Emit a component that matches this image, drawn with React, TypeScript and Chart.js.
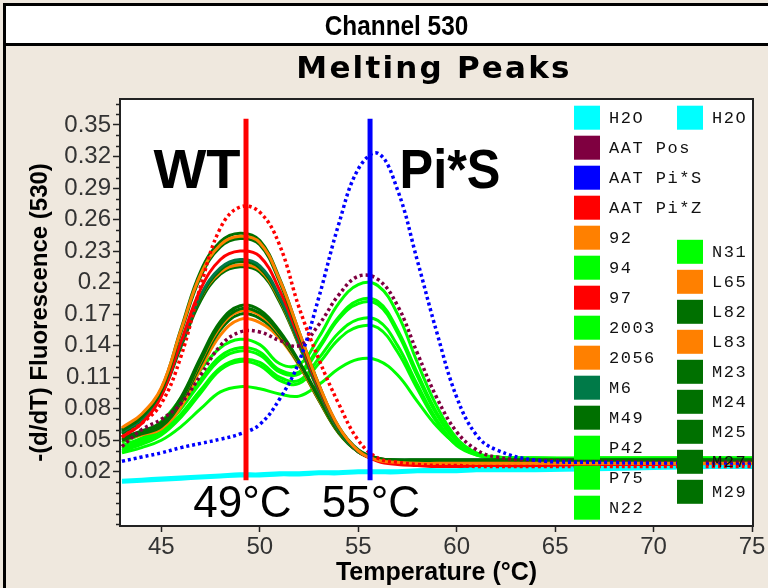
import React, { useEffect, useRef } from 'react';
import { Chart, registerables } from 'chart.js';

Chart.register(...registerables);

// ---------- data ----------
const TEMPS = [43, 44, 45, 46, 47, 48, 49, 50, 51, 52, 53, 54, 55, 56, 57, 58, 59, 60, 61, 62, 64, 67, 70, 73, 75];

const H2O_A = [0.010, 0.011, 0.012, 0.013, 0.014, 0.015, 0.016, 0.016, 0.017, 0.017, 0.018, 0.018, 0.019, 0.019, 0.019, 0.020, 0.020, 0.020, 0.021, 0.021, 0.021, 0.022, 0.023, 0.024, 0.024];
const H2O_B = [0.012, 0.013, 0.014, 0.015, 0.016, 0.017, 0.018, 0.018, 0.019, 0.019, 0.020, 0.020, 0.021, 0.021, 0.021, 0.022, 0.022, 0.022, 0.023, 0.023, 0.023, 0.024, 0.024, 0.025, 0.025];
const AAT_POS = [0.044, 0.060, 0.070, 0.085, 0.112, 0.140, 0.153, 0.153, 0.145, 0.140, 0.160, 0.188, 0.206, 0.203, 0.178, 0.133, 0.090, 0.058, 0.041, 0.034, 0.031, 0.030, 0.029, 0.029, 0.029];
const AAT_PIS = [0.030, 0.034, 0.038, 0.043, 0.047, 0.051, 0.056, 0.065, 0.089, 0.125, 0.186, 0.255, 0.308, 0.323, 0.288, 0.221, 0.152, 0.091, 0.055, 0.041, 0.031, 0.029, 0.028, 0.027, 0.027];
const AAT_PIZ = [0.053, 0.066, 0.085, 0.130, 0.197, 0.252, 0.272, 0.267, 0.236, 0.176, 0.127, 0.085, 0.050, 0.033, 0.029, 0.027, 0.026, 0.026, 0.025, 0.025, 0.025, 0.025, 0.025, 0.025, 0.025];
const S_92 = [0.062, 0.075, 0.100, 0.155, 0.208, 0.236, 0.244, 0.238, 0.203, 0.153, 0.103, 0.063, 0.040, 0.031, 0.029, 0.028, 0.028, 0.028, 0.028, 0.028, 0.028, 0.028, 0.028, 0.028, 0.028];
const S_94 = [0.048, 0.056, 0.068, 0.090, 0.117, 0.138, 0.146, 0.141, 0.123, 0.122, 0.148, 0.180, 0.198, 0.197, 0.170, 0.124, 0.082, 0.052, 0.038, 0.034, 0.033, 0.033, 0.033, 0.033, 0.033];
const S_97 = [0.053, 0.066, 0.092, 0.144, 0.194, 0.222, 0.230, 0.225, 0.193, 0.147, 0.100, 0.062, 0.040, 0.030, 0.027, 0.026, 0.025, 0.025, 0.025, 0.025, 0.025, 0.025, 0.025, 0.025, 0.025];
const S_2003 = [0.045, 0.052, 0.063, 0.083, 0.108, 0.130, 0.138, 0.134, 0.117, 0.115, 0.139, 0.167, 0.183, 0.182, 0.155, 0.114, 0.076, 0.050, 0.037, 0.034, 0.033, 0.033, 0.033, 0.033, 0.033];
const S_2056 = [0.050, 0.055, 0.061, 0.082, 0.118, 0.150, 0.165, 0.162, 0.147, 0.121, 0.088, 0.057, 0.039, 0.031, 0.029, 0.028, 0.028, 0.028, 0.028, 0.028, 0.028, 0.028, 0.028, 0.028, 0.028];
const S_M6 = [0.058, 0.070, 0.094, 0.142, 0.188, 0.214, 0.222, 0.216, 0.187, 0.143, 0.098, 0.060, 0.039, 0.032, 0.031, 0.031, 0.031, 0.031, 0.031, 0.031, 0.031, 0.031, 0.031, 0.031, 0.031];
const S_M49 = [0.060, 0.073, 0.099, 0.156, 0.211, 0.239, 0.247, 0.240, 0.204, 0.153, 0.103, 0.063, 0.041, 0.033, 0.031, 0.031, 0.031, 0.031, 0.031, 0.031, 0.031, 0.031, 0.031, 0.031, 0.031];
const S_P42 = [0.044, 0.050, 0.060, 0.080, 0.105, 0.127, 0.135, 0.131, 0.115, 0.113, 0.137, 0.165, 0.180, 0.179, 0.152, 0.111, 0.074, 0.049, 0.037, 0.034, 0.033, 0.033, 0.033, 0.033, 0.033];
const S_P75 = [0.042, 0.048, 0.057, 0.075, 0.098, 0.119, 0.127, 0.124, 0.110, 0.107, 0.128, 0.152, 0.165, 0.164, 0.140, 0.103, 0.069, 0.046, 0.036, 0.033, 0.032, 0.032, 0.032, 0.032, 0.032];
const S_N22 = [0.040, 0.046, 0.055, 0.072, 0.095, 0.117, 0.125, 0.121, 0.107, 0.104, 0.123, 0.146, 0.158, 0.157, 0.134, 0.099, 0.067, 0.045, 0.036, 0.033, 0.032, 0.032, 0.032, 0.032, 0.032];
const S_N31 = [0.038, 0.043, 0.050, 0.063, 0.080, 0.096, 0.101, 0.099, 0.094, 0.092, 0.103, 0.118, 0.127, 0.126, 0.112, 0.087, 0.063, 0.046, 0.037, 0.033, 0.032, 0.032, 0.032, 0.032, 0.032];
const S_L65 = [0.061, 0.074, 0.097, 0.142, 0.186, 0.210, 0.217, 0.212, 0.184, 0.141, 0.097, 0.060, 0.039, 0.031, 0.029, 0.028, 0.028, 0.028, 0.028, 0.028, 0.028, 0.028, 0.028, 0.028, 0.028];
const S_L82 = [0.057, 0.070, 0.095, 0.141, 0.186, 0.212, 0.220, 0.214, 0.185, 0.142, 0.097, 0.060, 0.039, 0.032, 0.031, 0.031, 0.031, 0.031, 0.031, 0.031, 0.031, 0.031, 0.031, 0.031, 0.031];
const S_L83 = [0.052, 0.058, 0.065, 0.088, 0.125, 0.158, 0.173, 0.169, 0.151, 0.123, 0.089, 0.058, 0.040, 0.031, 0.029, 0.028, 0.028, 0.028, 0.028, 0.028, 0.028, 0.028, 0.028, 0.028, 0.028];
const S_M23 = [0.051, 0.057, 0.064, 0.088, 0.126, 0.160, 0.175, 0.171, 0.152, 0.124, 0.090, 0.058, 0.040, 0.032, 0.031, 0.031, 0.031, 0.031, 0.031, 0.031, 0.031, 0.031, 0.031, 0.031, 0.031];
const S_M24 = [0.059, 0.072, 0.097, 0.153, 0.206, 0.234, 0.242, 0.236, 0.201, 0.151, 0.102, 0.062, 0.040, 0.033, 0.031, 0.031, 0.031, 0.031, 0.031, 0.031, 0.031, 0.031, 0.031, 0.031, 0.031];
const S_M25 = [0.056, 0.069, 0.093, 0.139, 0.183, 0.208, 0.215, 0.210, 0.182, 0.140, 0.096, 0.059, 0.039, 0.032, 0.031, 0.031, 0.031, 0.031, 0.031, 0.031, 0.031, 0.031, 0.031, 0.031, 0.031];
const S_M27 = [0.053, 0.059, 0.067, 0.091, 0.129, 0.163, 0.178, 0.174, 0.154, 0.125, 0.091, 0.059, 0.040, 0.032, 0.031, 0.031, 0.031, 0.031, 0.031, 0.031, 0.031, 0.031, 0.031, 0.031, 0.031];
const S_M29 = [0.050, 0.056, 0.063, 0.086, 0.122, 0.155, 0.170, 0.166, 0.149, 0.122, 0.088, 0.057, 0.039, 0.032, 0.031, 0.031, 0.031, 0.031, 0.031, 0.031, 0.031, 0.031, 0.031, 0.031, 0.031];

// melting-temperature markers
const MARK_T = [49.3, 55.6];
const MARK_Y = [0.012, 0.356];

const X_TICKS = [45, 50, 55, 60, 65, 70, 75];
const Y_TICKS = [0.02, 0.05, 0.08, 0.11, 0.14, 0.17, 0.2, 0.23, 0.26, 0.29, 0.32, 0.35];
const Y_MINOR = [-0.03, -0.02, -0.01, 0, 0.01, 0.03, 0.04, 0.06, 0.07, 0.09, 0.1, 0.12, 0.13, 0.15, 0.16, 0.18, 0.19, 0.21, 0.22, 0.24, 0.25, 0.27, 0.28, 0.3, 0.31, 0.33, 0.34, 0.36, 0.37];

const ANNOT_TEXT = ['WT', 'Pi*S', '49°C', '55°C'];
const ANNOT_T = [44.6, 57.1, 46.62, 53.15];
const ANNOT_V = [0.290, 0.290, -0.0228, -0.0228];

const LEGEND_COL1 = ['H2O', 'AAT Pos', 'AAT Pi*S', 'AAT Pi*Z', '92', '94', '97', '2003', '2056', 'M6', 'M49', 'P42', 'P75', 'N22'];
const LEGEND_COL2 = ['H2O', 'N31', 'L65', 'L82', 'L83', 'M23', 'M24', 'M25', 'M27', 'M29'];

// ---------- styles ----------
const CYAN = '#00FFFF';
const MAROON = '#7F0040';
const BLUE = '#0000FF';
const RED = '#FF0000';
const ORANGE = '#FF8000';
const LIME = '#00FF00';
const TEAL = '#007A48';
const DKGREEN = '#007000';

// first entry is drawn on top
const SERIES: { label: string; data: number[]; color: string; dotted: boolean }[] = [
  { label: 'AAT Pi*Z', data: AAT_PIZ, color: RED, dotted: true },
  { label: 'AAT Pi*S', data: AAT_PIS, color: BLUE, dotted: true },
  { label: 'AAT Pos', data: AAT_POS, color: MAROON, dotted: true },
  { label: 'H2O', data: H2O_A, color: CYAN, dotted: false },
  { label: 'H2O', data: H2O_B, color: CYAN, dotted: false },
  { label: '92', data: S_92, color: ORANGE, dotted: false },
  { label: 'M49', data: S_M49, color: DKGREEN, dotted: false },
  { label: 'M24', data: S_M24, color: DKGREEN, dotted: false },
  { label: '97', data: S_97, color: RED, dotted: false },
  { label: 'M6', data: S_M6, color: TEAL, dotted: false },
  { label: 'L82', data: S_L82, color: DKGREEN, dotted: false },
  { label: 'L65', data: S_L65, color: ORANGE, dotted: false },
  { label: 'M25', data: S_M25, color: DKGREEN, dotted: false },
  { label: 'M27', data: S_M27, color: DKGREEN, dotted: false },
  { label: 'M23', data: S_M23, color: DKGREEN, dotted: false },
  { label: 'L83', data: S_L83, color: ORANGE, dotted: false },
  { label: 'M29', data: S_M29, color: DKGREEN, dotted: false },
  { label: '2056', data: S_2056, color: ORANGE, dotted: false },
  { label: '94', data: S_94, color: LIME, dotted: false },
  { label: '2003', data: S_2003, color: LIME, dotted: false },
  { label: 'P42', data: S_P42, color: LIME, dotted: false },
  { label: 'P75', data: S_P75, color: LIME, dotted: false },
  { label: 'N22', data: S_N22, color: LIME, dotted: false },
  { label: 'N31', data: S_N31, color: LIME, dotted: false },
];

const SANS = '"Liberation Sans", Arial, sans-serif';
const MONO = '"Liberation Mono", "Courier New", monospace';

export default function App() {
  const ref = useRef<HTMLCanvasElement>(null);

  useEffect(() => {
    const canvas = ref.current;
    if (!canvas) return;

    const colorOf: Record<string, string> = {};
    SERIES.forEach((s) => { if (!colorOf[s.label]) colorOf[s.label] = s.color; });

    const markerSets = MARK_T.map((t, i) => ({
      label: 'marker' + i,
      data: MARK_Y.map((v) => ({ x: t, y: v })),
      borderColor: i === 0 ? RED : BLUE,
      borderWidth: 5,
      pointRadius: 0,
      tension: 0,
      fill: false,
    }));

    const seriesSets = SERIES.map((s) => ({
      label: s.label,
      data: TEMPS.map((t, i) => ({ x: t, y: s.data[i] })),
      borderColor: s.color,
      backgroundColor: s.color,
      borderWidth: s.dotted ? 3.5 : 3,
      borderDash: s.dotted ? [3, 3] : [],
      pointRadius: 0,
      tension: 0.4,
      fill: false,
    }));

    const framePlugin = {
      id: 'frame',
      beforeDraw(chart: any) {
        const ctx = chart.ctx;
        const ca = chart.chartArea;
        ctx.save();
        ctx.fillStyle = '#EFE8DE';
        ctx.fillRect(0, 0, 768, 588);
        ctx.fillStyle = '#FFFFFF';
        ctx.fillRect(5, 5, 763, 39);
        ctx.fillStyle = '#000000';
        ctx.fillRect(3, 3, 765, 3);
        ctx.fillRect(3, 43, 765, 3);
        ctx.fillRect(3, 3, 3, 585);
        // header
        ctx.save();
        ctx.translate(396.5, 35);
        ctx.scale(0.87, 1);
        ctx.font = 'bold 28px ' + SANS;
        ctx.textAlign = 'center';
        ctx.textBaseline = 'alphabetic';
        ctx.fillText('Channel 530', 0, 0);
        ctx.restore();
        // title
        ctx.font = 'bold 31px "DejaVu Sans", sans-serif';
        (ctx as any).letterSpacing = '2.2px';
        ctx.textAlign = 'center';
        ctx.textBaseline = 'alphabetic';
        ctx.fillText('Melting Peaks', 434, 78);
        (ctx as any).letterSpacing = '0px';
        // plot background
        ctx.fillStyle = '#FFFFFF';
        ctx.fillRect(ca.left, ca.top, ca.right - ca.left, ca.bottom - ca.top);
        ctx.restore();
      },
      afterDatasetsDraw(chart: any) {
        const ctx = chart.ctx;
        const ca = chart.chartArea;
        const xs = chart.scales.x;
        const ys = chart.scales.y;
        ctx.save();
        // annotations
        ctx.fillStyle = '#000000';
        ctx.textAlign = 'left';
        ctx.textBaseline = 'alphabetic';
        ANNOT_TEXT.forEach((txt, i) => {
          const px = xs.getPixelForValue(ANNOT_T[i]);
          const py = ys.getPixelForValue(ANNOT_V[i]);
          ctx.save();
          ctx.translate(px, py);
          if (i < 2) {
            ctx.font = 'bold 56px ' + SANS;
            ctx.scale(i === 0 ? 1.0 : 0.9, 1);
          } else {
            ctx.font = '44px ' + SANS;
          }
          ctx.fillText(txt, 0, 0);
          ctx.restore();
        });
        // legend
        const rowTop = (r: number) => ca.top + 6.7 + r * 30;
        ctx.font = '17px ' + MONO;
        (ctx as any).letterSpacing = '1.5px';
        ctx.textBaseline = 'middle';
        const drawItem = (name: string, sx: number, top: number) => {
          ctx.fillStyle = colorOf[name] || '#000';
          ctx.fillRect(sx, top, 26, 24);
          ctx.fillStyle = '#111111';
          ctx.fillText(name, sx + 35, top + 12.5);
        };
        LEGEND_COL1.forEach((n, r) => drawItem(n, ca.right - 179, rowTop(r)));
        LEGEND_COL2.forEach((n, i) => drawItem(n, ca.right - 76, rowTop(i === 0 ? 0 : 3.47 + i)));
        (ctx as any).letterSpacing = '0px';
        ctx.restore();
      },
      afterDraw(chart: any) {
        const ctx = chart.ctx;
        const ca = chart.chartArea;
        const ys = chart.scales.y;
        ctx.save();
        ctx.strokeStyle = '#222222';
        ctx.lineWidth = 1.5;
        Y_MINOR.forEach((v) => {
          const y = Math.round(ys.getPixelForValue(v)) + 0.5;
          if (y < ca.top || y > ca.bottom) return;
          ctx.beginPath();
          ctx.moveTo(ca.left - 4, y);
          ctx.lineTo(ca.left, y);
          ctx.stroke();
        });
        ctx.lineWidth = 2;
        ctx.strokeRect(ca.left, ca.top, ca.right - ca.left, ca.bottom - ca.top);
        ctx.restore();
      },
    };

    const chart = new Chart(canvas, {
      type: 'line',
      data: { datasets: [...markerSets, ...seriesSets] as any },
      options: {
        responsive: false,
        animation: false,
        devicePixelRatio: 1,
        layout: { padding: { top: 99, right: 15, left: 0, bottom: 0 } },
        plugins: {
          legend: { display: false },
          title: { display: false },
          tooltip: { enabled: false },
        },
        elements: { line: { borderCapStyle: 'butt' } },
        scales: {
          x: {
            type: 'linear',
            min: 42.9,
            max: 75.05,
            afterBuildTicks: (s: any) => { s.ticks = X_TICKS.map((v) => ({ value: v })); },
            afterFit: (s: any) => { s.height = 62; },
            border: { display: false },
            grid: { drawOnChartArea: false, drawTicks: true, tickLength: 6, tickColor: '#222', tickWidth: 1.5 },
            ticks: {
              font: { family: SANS, size: 24 },
              color: '#333',
              padding: 1,
              maxRotation: 0,
              autoSkip: false,
              callback: (v: any) => String(v),
            },
            title: {
              display: true,
              text: 'Temperature (°C)',
              color: '#000',
              font: { family: SANS, size: 25, weight: 'bold' },
              padding: { top: 0, bottom: 0 },
            },
          },
          y: {
            type: 'linear',
            min: -0.0316,
            max: 0.3747,
            afterBuildTicks: (s: any) => { s.ticks = Y_TICKS.map((v) => ({ value: v })); },
            afterFit: (s: any) => { s.width = 120; },
            border: { display: false },
            grid: { drawOnChartArea: false, drawTicks: true, tickLength: 7, tickColor: '#222', tickWidth: 1.5 },
            ticks: {
              font: { family: SANS, size: 24 },
              color: '#333',
              padding: 2,
              autoSkip: false,
              callback: (v: any) => String(parseFloat(Number(v).toFixed(2))),
            },
            title: {
              display: true,
              text: '-(d/dT) Fluorescence (530)',
              color: '#000',
              font: { family: SANS, size: 24, weight: 'bold' },
              padding: { top: 26, bottom: 0 },
            },
          },
        },
      } as any,
      plugins: [framePlugin],
    });

    return () => chart.destroy();
  }, []);

  return (
    <div style={{ position: 'fixed', left: 0, top: 0, width: 768, height: 588 }}>
      <canvas ref={ref} width={768} height={588} style={{ display: 'block', width: 768, height: 588 }} />
    </div>
  );
}
